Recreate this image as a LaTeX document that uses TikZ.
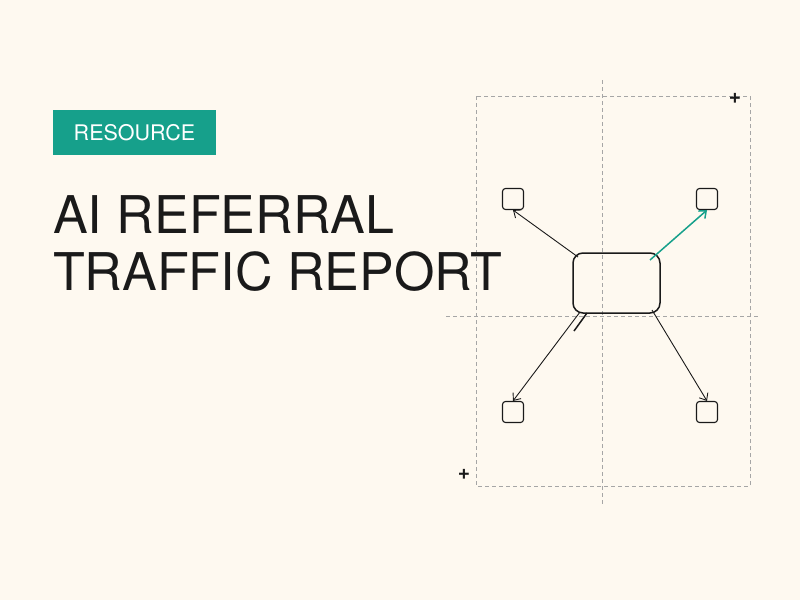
\documentclass[tikz,border=0pt]{standalone}
\usepackage{fontspec}
\setmainfont{TeX Gyre Heros}
\usetikzlibrary{arrows.meta}
\definecolor{bg}{HTML}{FEF9F0}
\definecolor{teal}{HTML}{16A08B}
\definecolor{ink}{HTML}{1A1A1A}
\begin{document}
\begin{tikzpicture}[x=1pt,y=-1pt,
  grid/.style={draw=gray!70,dash pattern=on 4pt off 3pt,line width=0.9pt},
  sq/.style={draw=ink,line width=1.1pt,rounded corners=3pt,minimum size=21pt,inner sep=0pt},
  arr/.style={draw=ink,line width=0.9pt,-{Straight Barb[length=6pt,width=10pt]}}]
\fill[bg] (0,0) rectangle (800,600);
\useasboundingbox (0,0) rectangle (800,600);
\draw[grid] (476,96) rectangle (750,486);
\draw[grid] (602,80) -- (602,505);
\draw[grid] (446,316) -- (758,316);
\node[fill=teal,minimum width=163pt,minimum height=45pt,inner sep=0pt] (tag) at (134.5,132.5) {};
\node[text=white,font=\fontsize{21.5}{21.5}\selectfont] (tagt) at (tag) {RESOURCE};
\node[anchor=north west,align=left,text=ink,inner sep=0pt,font=\fontsize{52}{57}\selectfont] (title) at (53,195) {AI REFERRAL\\TRAFFIC REPORT};
\node[draw=ink,line width=1.5pt,rounded corners=10pt,minimum width=87pt,minimum height=60pt,inner sep=0pt] (c) at (616.5,283) {};
\node[sq] (tl) at (513,199) {};
\node[sq] (tr) at (707,199) {};
\node[sq] (bl) at (513,412) {};
\node[sq] (br) at (707,412) {};
\coordinate (c1) at (578,257);
\coordinate (c2) at (650,260);
\coordinate (c3) at (580,312);
\coordinate (c4) at (652,310);
\coordinate (s1) at (574,331);
\coordinate (s2) at (587,313);
\draw[arr] (c1) -- (tl.south);
\draw[arr,draw=teal,line width=1.5pt] (c2) -- (tr.south);
\draw[arr] (c3) -- (bl.north);
\draw[arr] (c4) -- (br.north);
\draw[ink,line width=1.5pt] (s1) -- (s2);
\node[font=\bfseries\fontsize{21}{21}\selectfont,text=ink] (p1) at (735,98) {+};
\node[font=\bfseries\fontsize{21}{21}\selectfont,text=ink] (p2) at (464,474) {+};
\end{tikzpicture}
\end{document}
